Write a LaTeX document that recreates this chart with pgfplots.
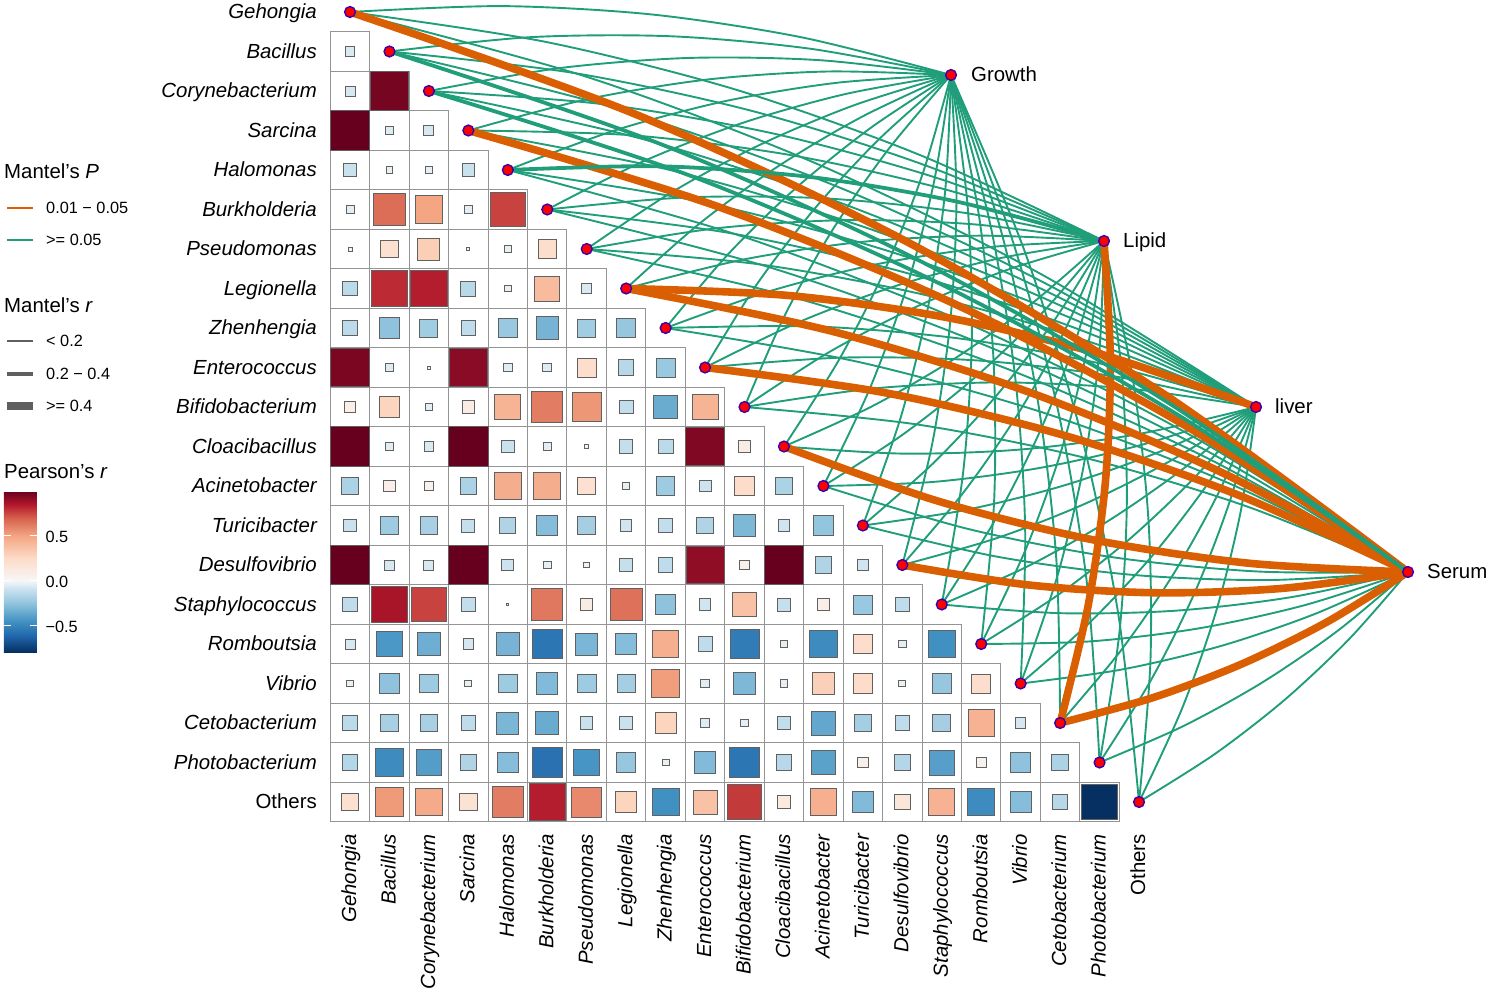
\documentclass[border=0pt]{standalone}
\usepackage{pgfplots}
\usepackage{pgfplotstable}
\usepackage{fontspec}
\setmainfont{Liberation Sans}
\pgfplotsset{compat=1.18}
\definecolor{gn}{RGB}{32,158,122}
\definecolor{og}{RGB}{217,95,2}
\definecolor{keygray}{RGB}{95,95,95}
\pgfplotstableread[row sep=\\,col sep=space]{
c i r\\
0 1 -0.06\\
0 2 -0.065\\ 1 2 0.97\\
0 3 1.0\\ 1 3 -0.05\\ 2 3 -0.065\\
0 4 -0.10\\ 1 4 -0.03\\ 2 4 -0.03\\ 3 4 -0.10\\
0 5 -0.04\\ 1 5 0.66\\ 2 5 0.50\\ 3 5 -0.04\\ 4 5 0.76\\
0 6 -0.01\\ 1 6 0.20\\ 2 6 0.31\\ 3 6 -0.006\\ 4 6 -0.03\\ 5 6 0.22\\
0 7 -0.14\\ 1 7 0.81\\ 2 7 0.84\\ 3 7 -0.145\\ 4 7 -0.03\\ 5 7 0.40\\ 6 7 -0.06\\
0 8 -0.14\\ 1 8 -0.26\\ 2 8 -0.21\\ 3 8 -0.13\\ 4 8 -0.23\\ 5 8 -0.32\\ 6 8 -0.21\\ 7 8 -0.24\\
0 9 0.96\\ 1 9 -0.05\\ 2 9 -0.006\\ 3 9 0.93\\ 4 9 -0.045\\ 5 9 -0.05\\ 6 9 0.23\\ 7 9 -0.15\\ 8 9 -0.23\\
0 10 0.08\\ 1 10 0.28\\ 2 10 -0.04\\ 3 10 0.10\\ 4 10 0.43\\ 5 10 0.62\\ 6 10 0.54\\ 7 10 -0.12\\ 8 10 -0.35\\ 9 10 0.43\\
0 11 1.0\\ 1 11 -0.045\\ 2 11 -0.06\\ 3 11 1.0\\ 4 11 -0.10\\ 5 11 -0.04\\ 6 11 -0.01\\ 7 11 -0.115\\ 8 11 -0.14\\ 9 11 0.95\\ 10 11 0.10\\
0 12 -0.18\\ 1 12 0.08\\ 2 12 0.05\\ 3 12 -0.18\\ 4 12 0.46\\ 5 12 0.46\\ 6 12 0.20\\ 7 12 -0.03\\ 8 12 -0.22\\ 9 12 -0.09\\ 10 12 0.24\\ 11 12 -0.18\\
0 13 -0.10\\ 1 13 -0.22\\ 2 13 -0.19\\ 3 13 -0.11\\ 4 13 -0.17\\ 5 13 -0.28\\ 6 13 -0.20\\ 7 13 -0.08\\ 8 13 -0.12\\ 9 13 -0.17\\ 10 13 -0.30\\ 11 13 -0.08\\ 12 13 -0.25\\
0 14 1.0\\ 1 14 -0.065\\ 2 14 -0.065\\ 3 14 1.0\\ 4 14 -0.09\\ 5 14 -0.035\\ 6 14 -0.02\\ 7 14 -0.11\\ 8 14 -0.13\\ 9 14 0.92\\ 10 14 0.06\\ 11 14 1.0\\ 12 14 -0.17\\ 13 14 -0.08\\
0 15 -0.13\\ 1 15 0.87\\ 2 15 0.76\\ 3 15 -0.12\\ 4 15 -0.003\\ 5 15 0.63\\ 6 15 0.10\\ 7 15 0.65\\ 8 15 -0.26\\ 9 15 -0.08\\ 10 15 0.37\\ 11 15 -0.11\\ 12 15 0.08\\ 13 15 -0.23\\ 14 15 -0.13\\
0 16 -0.065\\ 1 16 -0.43\\ 2 16 -0.34\\ 3 16 -0.07\\ 4 16 -0.32\\ 5 16 -0.56\\ 6 16 -0.31\\ 7 16 -0.28\\ 8 16 0.45\\ 9 16 -0.13\\ 10 16 -0.54\\ 11 16 -0.04\\ 12 16 -0.48\\ 13 16 0.23\\ 14 16 -0.04\\ 15 16 -0.46\\
0 17 -0.03\\ 1 17 -0.26\\ 2 17 -0.22\\ 3 17 -0.03\\ 4 17 -0.22\\ 5 17 -0.29\\ 6 17 -0.22\\ 7 17 -0.20\\ 8 17 0.52\\ 9 17 -0.045\\ 10 17 -0.30\\ 11 17 -0.035\\ 12 17 0.30\\ 13 17 0.24\\ 14 17 -0.03\\ 15 17 -0.24\\ 16 17 0.23\\
0 18 -0.14\\ 1 18 -0.19\\ 2 18 -0.19\\ 3 18 -0.13\\ 4 18 -0.31\\ 5 18 -0.35\\ 6 18 -0.10\\ 7 18 -0.10\\ 8 18 0.28\\ 9 18 -0.055\\ 10 18 -0.035\\ 11 18 -0.12\\ 12 18 -0.37\\ 13 18 -0.20\\ 14 18 -0.13\\ 15 18 -0.20\\ 16 18 0.44\\ 17 18 -0.07\\
0 19 -0.16\\ 1 19 -0.48\\ 2 19 -0.41\\ 3 19 -0.17\\ 4 19 -0.28\\ 5 19 -0.58\\ 6 19 -0.44\\ 7 19 -0.24\\ 8 19 -0.03\\ 9 19 -0.29\\ 10 19 -0.56\\ 11 19 -0.15\\ 12 19 -0.39\\ 13 19 0.07\\ 14 19 -0.16\\ 15 19 -0.40\\ 16 19 0.06\\ 17 19 -0.26\\ 18 19 -0.18\\
0 20 0.20\\ 1 20 0.53\\ 2 20 0.47\\ 3 20 0.19\\ 4 20 0.62\\ 5 20 0.84\\ 6 20 0.58\\ 7 20 0.28\\ 8 20 -0.46\\ 9 20 0.37\\ 10 20 0.78\\ 11 20 0.12\\ 12 20 0.45\\ 13 20 -0.29\\ 14 20 0.15\\ 15 20 0.44\\ 16 20 -0.48\\ 17 20 -0.28\\ 18 20 -0.15\\ 19 20 -0.80\\
}\cells
\def\curv{0.048}
\pgfplotsset{
 gthin/.style={gn,line width=1.9pt},
 gmid/.style={gn,line width=3.8pt},
 othick/.style={og,line width=7.6pt},
}
% one link between a taxon (row #1) and an environment node (#2,#3)
\newcommand\E[4]{%
 \pgfmathsetmacro\Etx{350+39.45*#1}%
 \pgfmathsetmacro\Ety{12+39.5*#1}%
 \pgfmathsetmacro\Esg{(#1<=10)?1:-1}%
 \pgfmathsetmacro\Edx{#2-\Etx}%
 \pgfmathsetmacro\Edy{#3-\Ety}%
 \pgfmathsetmacro\Enx{\Esg*\curv*\Edy}%
 \pgfmathsetmacro\Eny{-\Esg*\curv*\Edx}%
 \pgfmathsetmacro\Eax{\Etx+.25*\Edx+.75*\Enx}%
 \pgfmathsetmacro\Eay{\Ety+.25*\Edy+.75*\Eny}%
 \pgfmathsetmacro\Ebx{\Etx+.5*\Edx+\Enx}%
 \pgfmathsetmacro\Eby{\Ety+.5*\Edy+\Eny}%
 \pgfmathsetmacro\Ecx{\Etx+.75*\Edx+.75*\Enx}%
 \pgfmathsetmacro\Ecy{\Ety+.75*\Edy+.75*\Eny}%
 \edef\Etemp{\noexpand\addplot[#4,smooth,no markers] coordinates {(\Etx,\Ety) (\Eax,\Eay) (\Ebx,\Eby) (\Ecx,\Ecy) (#2,#3)};}\Etemp}
\begin{document}
\begin{tikzpicture}
\path[use as bounding box] (0,0) rectangle (1488pt,992pt);
\begin{axis}[
  at={(0,0)},anchor=south west,
  width=1488pt,height=992pt,scale only axis,
  xmin=0,xmax=1488,ymin=0,ymax=992,y dir=reverse,
  hide axis,clip=false,
  colormap={rdbu}{rgb255(0pt)=(5,48,97); rgb255(18pt)=(33,102,172); rgb255(35pt)=(67,147,195); rgb255(55pt)=(146,197,222); rgb255(72pt)=(209,229,240); rgb255(80pt)=(247,247,247); rgb255(105pt)=(253,219,199); rgb255(130pt)=(244,165,130); rgb255(150pt)=(214,96,77); rgb255(165pt)=(178,24,43); rgb255(180pt)=(103,0,31)},
  point meta min=-0.8,point meta max=1,
  colorbar,
  colorbar/width=33pt,
  colorbar style={
    at={(4/1488,340/992)},anchor=south west,
    height=161pt,
    axis line style={draw=none},
    ytick={-0.5,0,0.5},
    yticklabels={−0.5,0.0,0.5},
    ytick pos=both,yticklabel pos=right,
    tick align=inside,
    major tick length=7pt,
    tick style={white,line width=0.8pt},
    yticklabel style={font=\fontsize{16.3}{19}\selectfont,xshift=5pt,yshift=-1.5pt},
  },
]
% matrix cells
\addplot[only marks,mark=square*,mark size=19.72pt,mark options={fill=white,draw=black!42,line width=1pt}]
  table[x expr=350+39.45*\thisrow{c},y expr=12+39.5*\thisrow{i}] {\cells};
\addplot[scatter,only marks,mark=square*,point meta=explicit,
  scatter/use mapped color={draw=black!62,fill=mapped color},
  visualization depends on={sqrt(abs(\thisrow{r}))*19.72 \as \sz},
  scatter/@pre marker code/.append style={/tikz/mark size=\sz},
  mark options={line width=0.9pt}]
  table[x expr=350+39.45*\thisrow{c},y expr=12+39.5*\thisrow{i},meta=r] {\cells};
% links
\pgfplotsforeachungrouped \i in {0,...,20}{%
  \E{\i}{951}{75}{gthin}%
  \E{\i}{1104}{241}{gthin}%
  \E{\i}{1256}{407}{gthin}%
  \E{\i}{1408}{572}{gthin}%
}
\E{0}{1408}{572}{othick}
\E{3}{1408}{572}{othick}
\E{7}{1256}{407}{othick}
\E{7}{1408}{572}{othick}
\E{9}{1408}{572}{othick}
\E{11}{1408}{572}{othick}
\E{14}{1408}{572}{othick}
\E{18}{1104}{241}{othick}
\E{18}{1408}{572}{othick}
\E{1}{1408}{572}{gmid}
\E{2}{1408}{572}{gmid}
\E{4}{1104}{241}{gmid}
% nodes
\addplot[only marks,mark=*,mark size=5.4pt,mark options={fill=red,draw={rgb,255:red,60;green,0;blue,170},line width=1.4pt}]
 table[row sep=\\] {
 x y\\
 350 12\\ 389.45 51.5\\ 428.9 91\\ 468.35 130.5\\ 507.8 170\\ 547.25 209.5\\ 586.7 249\\ 626.15 288.5\\ 665.6 328\\ 705.05 367.5\\ 744.5 407\\ 783.95 446.5\\ 823.4 486\\ 862.85 525.5\\ 902.3 565\\ 941.75 604.5\\ 981.2 644\\ 1020.65 683.5\\ 1060.1 723\\ 1099.55 762.5\\ 1139 802\\
 951 75\\ 1104 241\\ 1256 407\\ 1408 572\\
 };
\end{axis}
\begin{scope}[x=1pt,y=-1pt,yshift=992pt]
\tikzset{lab/.style={font=\fontsize{20.4}{24}\selectfont,inner sep=0pt,text height=14.6pt,text depth=4.4pt},
 sm/.style={font=\fontsize{16.3}{19}\selectfont,inner sep=0pt,text height=11.7pt,text depth=3.3pt,anchor=west}}
\foreach \n [count=\k from 0] in {Gehongia,Bacillus,Corynebacterium,Sarcina,Halomonas,Burkholderia,Pseudomonas,Legionella,Zhenhengia,Enterococcus,Bifidobacterium,Cloacibacillus,Acinetobacter,Turicibacter,Desulfovibrio,Staphylococcus,Romboutsia,Vibrio,Cetobacterium,Photobacterium}{
  \node[lab,anchor=east] at (317,{13.7+39.5*\k}) {\itshape\n};
  \node[lab,anchor=east,rotate=90] at ({351+39.45*\k},834) {\itshape\n};
}
\node[lab,anchor=east] at (317,803.7) {Others};
\node[lab,anchor=east,rotate=90] at (1140,834) {Others};
\node[lab,anchor=west] at (971,76.7) {Growth};
\node[lab,anchor=west] at (1123,242.7) {Lipid};
\node[lab,anchor=west] at (1275,408.7) {liver};
\node[lab,anchor=west] at (1427,573.7) {Serum};
% legends
\node[lab,anchor=west] at (4,173.7) {Mantel's \itshape P};
\draw[og,line width=1.9pt] (7,208)--(33,208);
\node[sm] at (46,209.3) {0.01 − 0.05};
\draw[gn,line width=1.9pt] (7,240)--(33,240);
\node[sm] at (46,241.3) {>= 0.05};
\node[lab,anchor=west] at (4,307.7) {Mantel's \itshape r};
\draw[keygray,line width=1.9pt] (7,341)--(33,341);
\node[sm] at (46,342.3) {< 0.2};
\draw[keygray,line width=3.8pt] (7,374)--(33,374);
\node[sm] at (46,375.3) {0.2 − 0.4};
\draw[keygray,line width=7.2pt] (7,406)--(33,406);
\node[sm] at (46,407.3) {>= 0.4};
\node[lab,anchor=west] at (4,473.7) {Pearson's \itshape r};
\end{scope}
\end{tikzpicture}
\end{document}
